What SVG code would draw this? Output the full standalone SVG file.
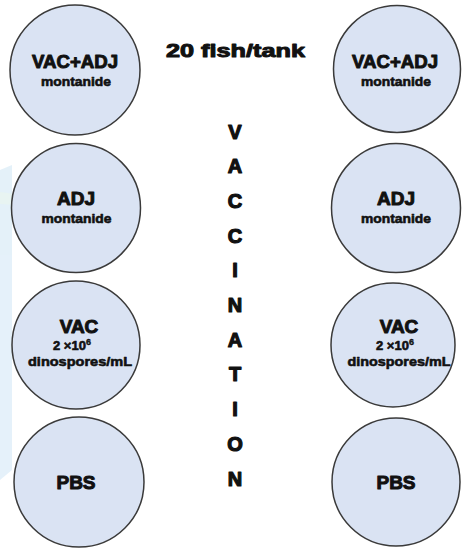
<svg xmlns="http://www.w3.org/2000/svg" width="462" height="548" viewBox="0 0 462 548">
<style>
  .c { fill: #dae3f3; stroke: #3a3a3a; stroke-width: 1.5; }
  .t { font-family: "Liberation Sans", Arial, sans-serif; font-weight: bold; fill: #111; text-anchor: middle; stroke: #111; stroke-width: 1; stroke-linejoin: round; }
  .big { font-size: 19px; }
  .small { font-size: 13px; stroke-width: 0.6; }
  .sup { font-size: 9px; stroke-width: 0.4; }
  .v { font-size: 20px; stroke-width: 1.2; }
</style>
<rect width="462" height="548" fill="#ffffff"/>
<g id="background" opacity="0.9">
  <path d="M0 170 L12 165 L12 470 L0 480 Z" fill="#e2f0f9"/>
  <path d="M0 192 L30 196 L30 206 L0 204 Z" fill="#e6f3f1"/>
</g>
<g id="node-l1">
  <circle class="c" cx="75" cy="70" r="65"/>
  <text class="t big" x="75" y="68" textLength="86" lengthAdjust="spacingAndGlyphs">VAC+ADJ</text>
  <text class="t small" x="76" y="86" textLength="70" lengthAdjust="spacingAndGlyphs">montanide</text>
</g>
<g id="node-l2">
  <circle class="c" cx="76" cy="208" r="64.5"/>
  <text class="t big" x="76" y="205">ADJ</text>
  <text class="t small" x="76.5" y="223" textLength="70" lengthAdjust="spacingAndGlyphs">montanide</text>
</g>
<g id="node-l3">
  <circle class="c" cx="76" cy="345" r="64"/>
  <text class="t big" x="79" y="333">VAC</text>
  <text class="t small" x="72" y="350">2 ×10<tspan class="sup" dy="-5">6</tspan></text>
  <text class="t small" x="80" y="366" textLength="104" lengthAdjust="spacingAndGlyphs">dinospores/mL</text>
</g>
<g id="node-l4">
  <circle class="c" cx="79" cy="482" r="65"/>
  <text class="t big" x="76" y="489">PBS</text>
</g>
<g id="node-r1">
  <circle class="c" cx="397" cy="69" r="63.5"/>
  <text class="t big" x="395" y="68" textLength="86" lengthAdjust="spacingAndGlyphs">VAC+ADJ</text>
  <text class="t small" x="396" y="86" textLength="70" lengthAdjust="spacingAndGlyphs">montanide</text>
</g>
<g id="node-r2">
  <circle class="c" cx="396" cy="208" r="64.5"/>
  <text class="t big" x="396" y="205">ADJ</text>
  <text class="t small" x="396" y="223" textLength="70" lengthAdjust="spacingAndGlyphs">montanide</text>
</g>
<g id="node-r3">
  <circle class="c" cx="393" cy="345" r="62"/>
  <text class="t big" x="399" y="333">VAC</text>
  <text class="t small" x="395" y="350">2 ×10<tspan class="sup" dy="-5">6</tspan></text>
  <text class="t small" x="399" y="366" textLength="103" lengthAdjust="spacingAndGlyphs">dinospores/mL</text>
</g>
<g id="node-r4">
  <circle class="c" cx="396" cy="482" r="64"/>
  <text class="t big" x="396" y="489">PBS</text>
</g>
<g id="title">
  <text class="t" style="font-size:19px" x="235.5" y="57" textLength="139" lengthAdjust="spacingAndGlyphs">20 fish/tank</text>
</g>
<g id="vaccination">
  <text class="t v" x="235" y="138.5">V</text>
  <text class="t v" x="235" y="173.2">A</text>
  <text class="t v" x="235" y="207.9">C</text>
  <text class="t v" x="235" y="242.6">C</text>
  <text class="t v" x="235" y="277.3">I</text>
  <text class="t v" x="235" y="312">N</text>
  <text class="t v" x="235" y="346.7">A</text>
  <text class="t v" x="235" y="381.4">T</text>
  <text class="t v" x="235" y="416.1">I</text>
  <text class="t v" x="235" y="450.8">O</text>
  <text class="t v" x="235" y="485.5">N</text>
</g>
<g id="connectors"></g>
</svg>
